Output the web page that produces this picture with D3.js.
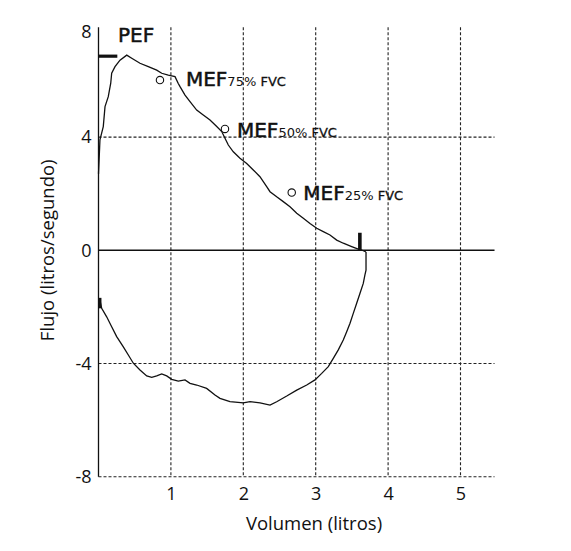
<!DOCTYPE html>
<html>
<head>
<meta charset="utf-8">
<script src="https://cdn.jsdelivr.net/npm/d3@7"></script>
<style>
    body { margin: 0; background: #fff; }
    text { font-family: "Open Sans", sans-serif; fill: #111; }
</style>
</head>
<body>
<div id="chart"></div>
<script>
// Expiratory limb (volume in litres, flow in l/s)
const expVolume = [0, 0.02, 0.066, 0.09, 0.135, 0.169, 0.182, 0.228, 0.297, 0.39, 0.459, 0.573, 0.688, 0.804, 0.873, 0.964, 1.057, 1.10, 1.126, 1.195, 1.264, 1.356, 1.447, 1.54, 1.633, 1.702, 1.747, 1.793, 1.862, 1.954, 2.047, 2.138, 2.23, 2.323, 2.369, 2.461, 2.552, 2.645, 2.738, 2.829, 2.921, 3.014, 3.105, 3.197, 3.29, 3.381, 3.497, 3.588, 3.635, 3.695];
const expFlow = [2.7, 3.9, 4.4, 5.16, 5.54, 6.05, 6.43, 6.68, 6.93, 7.12, 7.0, 6.81, 6.68, 6.55, 6.43, 6.36, 6.30, 6.05, 5.92, 5.60, 5.35, 5.03, 4.84, 4.65, 4.40, 4.21, 3.96, 3.72, 3.48, 3.25, 3.07, 2.84, 2.60, 2.25, 2.07, 1.89, 1.72, 1.54, 1.31, 1.13, 0.95, 0.78, 0.66, 0.54, 0.36, 0.25, 0.13, 0.04, 0.01, -0.06];

// Inspiratory limb, from end of expiration back to volume 0
const inspVolume = [3.695, 3.695, 3.68, 3.657, 3.612, 3.566, 3.519, 3.474, 3.428, 3.381, 3.312, 3.243, 3.174, 3.083, 2.99, 2.876, 2.738, 2.6, 2.461, 2.369, 2.231, 2.093, 2.0, 1.816, 1.678, 1.609, 1.494, 1.356, 1.264, 1.195, 1.102, 1.011, 0.942, 0.873, 0.804, 0.735, 0.666, 0.573, 0.481, 0.412, 0.343, 0.251, 0.182, 0.113, 0.044, 0.02];
const inspFlow = [-0.06, -0.70, -0.87, -1.17, -1.52, -1.87, -2.23, -2.58, -2.88, -3.17, -3.52, -3.82, -4.11, -4.35, -4.58, -4.76, -4.94, -5.15, -5.35, -5.47, -5.39, -5.35, -5.39, -5.35, -5.23, -5.11, -4.88, -4.76, -4.70, -4.58, -4.62, -4.56, -4.44, -4.37, -4.44, -4.49, -4.44, -4.23, -3.99, -3.70, -3.41, -3.05, -2.70, -2.35, -2.05, -1.76];

// MEF points
const mefNames = ["75%", "50%", "25%"];
const mefVolume = [0.849, 1.747, 2.669];
const mefFlow = [6.17, 4.31, 2.04];

// PEF marker and other markers
const pefFlow = 7.08;
const pefVolumeEnd = 0.26;
const endExpVolume = 3.61;

const xTicks = [1, 2, 3, 4, 5];
const yTicks = [8, 4, 0, -4, -8];
const yGrid = [4, -4, -8];

const width = 571, height = 551;

const svg = d3.select("#chart").append("svg")
    .attr("width", width)
    .attr("height", height);

// Scales (scan is slightly stretched above 4, so piecewise)
const x = d3.scaleLinear().domain([0, 5]).range([98.5, 460.5]);
const y = d3.scaleLinear().domain([-8, 4, 8]).range([476.7, 137.1, 32]);

const xMax = 5.47;
const yTop = 8.18;

// Grid
const dash = "3,2";
svg.append("g").selectAll("line")
    .data(xTicks)
    .join("line")
    .attr("x1", d => x(d)).attr("x2", d => x(d))
    .attr("y1", y(yTop)).attr("y2", y(-8))
    .attr("stroke", "#222").attr("stroke-width", 1.1)
    .attr("stroke-dasharray", dash);

svg.append("g").selectAll("line")
    .data(yGrid)
    .join("line")
    .attr("x1", x(0)).attr("x2", x(xMax))
    .attr("y1", d => y(d)).attr("y2", d => y(d))
    .attr("stroke", "#222").attr("stroke-width", 1.1)
    .attr("stroke-dasharray", dash);

// Solid y axis and zero line
svg.append("line")
    .attr("x1", x(0)).attr("x2", x(0))
    .attr("y1", y(yTop)).attr("y2", y(-8))
    .attr("stroke", "#111").attr("stroke-width", 1.3);

svg.append("line")
    .attr("x1", x(0)).attr("x2", x(xMax))
    .attr("y1", y(0)).attr("y2", y(0))
    .attr("stroke", "#111").attr("stroke-width", 1.4);

// Axes (labels only, plain hyphen for negatives)
const yAxis = svg.append("g")
    .attr("transform", `translate(${x(0)},0)`)
    .call(d3.axisLeft(y).tickValues(yTicks).tickSize(0).tickPadding(7).tickFormat(d => String(d)));
yAxis.select(".domain").remove();
yAxis.selectAll("text").style("font-size", "18px").style("font-family", "Open Sans").attr("fill", "#111");

const xAxis = svg.append("g")
    .attr("transform", `translate(0,${y(-8)})`)
    .call(d3.axisBottom(x).tickValues(xTicks).tickSize(0).tickPadding(11).tickFormat(d => String(d)));
xAxis.select(".domain").remove();
xAxis.selectAll("text").style("font-size", "18px").style("font-family", "Open Sans").attr("fill", "#111");

// Axis titles
svg.append("text")
    .attr("x", 314)
    .attr("y", 530)
    .attr("text-anchor", "middle")
    .style("font-size", "18.5px")
    .text("Volumen (litros)");

svg.append("text")
    .attr("transform", `translate(54,${y(0)}) rotate(-90)`)
    .attr("text-anchor", "middle")
    .style("font-size", "18.5px")
    .text("Flujo (litros/segundo)");

// Flow-volume loop
const line = d3.line()
    .x(d => x(d[0]))
    .y(d => y(d[1]));

svg.append("path")
    .datum(d3.zip(expVolume, expFlow))
    .attr("d", line)
    .attr("fill", "none")
    .attr("stroke", "#111")
    .attr("stroke-width", 1.3);

svg.append("path")
    .datum(d3.zip(inspVolume, inspFlow))
    .attr("d", line)
    .attr("fill", "none")
    .attr("stroke", "#111")
    .attr("stroke-width", 1.3);

// Markers: PEF bar, end of expiration, start of inspiration
svg.append("line")
    .attr("x1", x(0)).attr("x2", x(pefVolumeEnd))
    .attr("y1", y(pefFlow)).attr("y2", y(pefFlow))
    .attr("stroke", "#111").attr("stroke-width", 3.2);

svg.append("line")
    .attr("x1", x(endExpVolume)).attr("x2", x(endExpVolume))
    .attr("y1", y(0)).attr("y2", y(0.62))
    .attr("stroke", "#111").attr("stroke-width", 3.6);

svg.append("line")
    .attr("x1", x(0.02)).attr("x2", x(0.02))
    .attr("y1", y(-1.68)).attr("y2", y(-2.05))
    .attr("stroke", "#111").attr("stroke-width", 3);

// PEF label
svg.append("text")
    .attr("x", x(0) + 19.5)
    .attr("y", 42)
    .style("font-family", "DejaVu Sans")
    .style("font-size", "20px")
    .style("stroke", "#111")
    .style("stroke-width", 0.5)
    .text("PEF");

// MEF circles and labels
const mef = d3.zip(mefNames, mefVolume, mefFlow);
const labelOffsets = [[26, 6], [12, 8], [11.5, 7.5]];

svg.append("g").selectAll("circle")
    .data(mef)
    .join("circle")
    .attr("cx", d => x(d[1]))
    .attr("cy", d => y(d[2]))
    .attr("r", 3.7)
    .attr("fill", "#fff")
    .attr("stroke", "#111")
    .attr("stroke-width", 1.1);

const labels = svg.append("g").selectAll("text")
    .data(mef)
    .join("text")
    .attr("x", (d, i) => x(d[1]) + labelOffsets[i][0])
    .attr("y", (d, i) => y(d[2]) + labelOffsets[i][1])
    .style("font-family", "DejaVu Sans");

labels.append("tspan")
    .style("font-size", "20px")
    .style("stroke", "#111")
    .style("stroke-width", 0.5)
    .text("MEF");
labels.append("tspan")
    .style("font-size", "13px")
    .text(d => d[0]);
labels.append("tspan")
    .style("font-size", "13px")
    .style("stroke", "#111")
    .style("stroke-width", 0.3)
    .text(" FVC");
</script>
</body>
</html>
